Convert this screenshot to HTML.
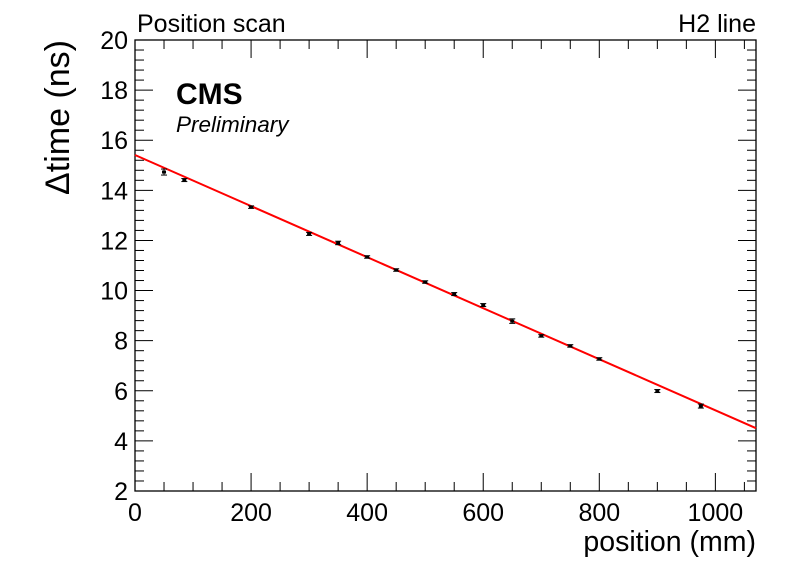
<!DOCTYPE html>
<html><head><meta charset="utf-8"><style>
body{margin:0;background:#fff}
svg{display:block;font-family:"Liberation Sans",Arial,sans-serif}
</style></head><body>
<svg id="chart" width="796" height="572">
<rect width="796" height="572" fill="#fff"/>
<g id="axes"></g><g id="marks"></g>
<text x="137" y="32" font-size="25">Position scan</text>
<text x="756" y="32" font-size="25" text-anchor="end">H2 line</text>
<text x="176" y="104" font-size="30" font-weight="bold">CMS</text>
<text x="176" y="132" font-size="22.5" font-style="italic">Preliminary</text>
<text x="756" y="551" font-size="28.5" text-anchor="end">position (mm)</text>
<text transform="translate(69,40) rotate(-90)" font-size="34" text-anchor="end">Δtime (ns)</text>
</svg>
<script>
const positions=[50,85,200,300,350,400,450,500,550,600,650,700,750,800,900,975];
const dtimes=[14.73,14.41,13.33,12.26,11.9,11.34,10.82,10.34,9.86,9.42,8.78,8.19,7.79,7.27,5.99,5.39];
const errors=[0.12,0.06,0.05,0.06,0.07,0.05,0.05,0.05,0.06,0.06,0.09,0.05,0.05,0.05,0.06,0.08];
const fitIntercept=15.41;
const fitSlope=-0.01019;
const xTicks=[0,200,400,600,800,1000];
const yTicks=[2,4,6,8,10,12,14,16,18,20];
const L=135,R=756,T=40,B=491,XMAX=1070,YMIN=2,YMAX=20;
const sx=v=>L+(v/XMAX)*(R-L), sy=v=>B-(v-YMIN)/(YMAX-YMIN)*(B-T);
const NS="http://www.w3.org/2000/svg";
const ax=document.getElementById('axes'), mk=document.getElementById('marks');
function el(t,a,p){const e=document.createElementNS(NS,t);for(const k in a)e.setAttribute(k,a[k]);p.appendChild(e);return e;}
const fr=el('rect',{x:L,y:T,width:R-L,height:B-T,fill:'none',stroke:'#000','stroke-width':1.3},ax);


for(let v=0;v<=XMAX;v+=50){const big=v%200===0;const x=sx(v);const h=big?18:9;
 el('line',{x1:x,x2:x,y1:B,y2:B-h,stroke:'#000'},ax);el('line',{x1:x,x2:x,y1:T,y2:T+h,stroke:'#000'},ax);}
for(let v=2;v<=20.001;v+=0.4){const big=Math.abs(v-Math.round(v))<1e-6&&Math.round(v)%2===0;const y=sy(v);const w=big?18:9;
 el('line',{x1:L,x2:L+w,y1:y,y2:y,stroke:'#000'},ax);el('line',{x1:R,x2:R-w,y1:y,y2:y,stroke:'#000'},ax);}
xTicks.forEach(v=>{const t=el('text',{x:sx(v),y:521,'font-size':25,'text-anchor':'middle'},ax);t.textContent=v;
 
 });
yTicks.forEach(v=>{const t=el('text',{x:128,y:sy(v)+9,'font-size':25,'text-anchor':'end'},ax);t.textContent=v;
 
 });
const fit=el('line',{x1:sx(0),y1:sy(fitIntercept),x2:sx(XMAX),y2:sy(fitIntercept+fitSlope*XMAX),stroke:'#f00','stroke-width':2},mk);


positions.forEach((p,i)=>{const x=sx(p),y=sy(dtimes[i]),e=errors[i]*(B-T)/(YMAX-YMIN);
 const g=el('g',{},mk);
 
 
 el('line',{x1:x,x2:x,y1:y-e,y2:y+e,stroke:'#000','stroke-width':1},g);
 el('line',{x1:x-3,x2:x+3,y1:y-e,y2:y-e,stroke:'#000'},g);
 el('line',{x1:x-3,x2:x+3,y1:y+e,y2:y+e,stroke:'#000'},g);
 el('rect',{x:x-2,y:y-1.5,width:4,height:3,fill:'#000'},g);});
</script>
</body></html>
